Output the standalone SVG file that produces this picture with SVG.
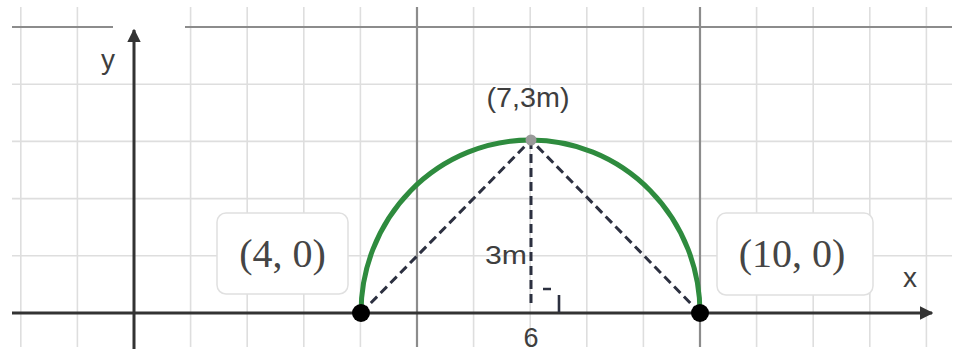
<svg xmlns="http://www.w3.org/2000/svg" width="957" height="354" viewBox="0 0 957 354">
<style>
.minor{stroke:#dedede;stroke-width:1.6;fill:none}
.major{stroke:#8c8c8c;stroke-width:2.2;fill:none}
.axis{stroke:#333;stroke-width:3;fill:none}
.dash{stroke:#2c3040;stroke-width:3;stroke-dasharray:9 5;fill:none}
.lbl{font-family:"Liberation Sans",Arial,sans-serif;fill:#3e3e3e}
.math{font-family:"Liberation Serif","Times New Roman",serif;fill:#454545;font-size:40px}
.box{fill:#fff;stroke:#e0e0e0;stroke-width:1.5}
</style>
<defs>
<marker id="arr" viewBox="0 0 10 10" refX="9" refY="5" markerWidth="4.5" markerHeight="4.5" orient="auto" markerUnits="strokeWidth">
<path d="M0,0 L10,5 L0,10 z" fill="#333"/>
</marker>
</defs>
<rect width="957" height="354" fill="#fff"/>
<g id="grid">
<g class="minor">
<path d="M20.8,7V347M77.4,7V347M190.6,7V347M247.2,7V347M303.8,7V347M360.4,7V347M473.6,7V347M530.2,7V347M586.8,7V347M643.4,7V347M756.6,7V347M813.2,7V347M869.8,7V347M926.4,7V347"/>
<path d="M12,84.2H952M12,141.4H952M12,198.6H952M12,255.8H952"/>
</g>
<g class="major">
<path d="M417,7V347M700,7V347"/>
<path d="M12,27H113M185,27H952"/>
</g>
</g>
<g id="axes">
<path class="axis" d="M12,313H932" marker-end="url(#arr)"/>
<path class="axis" d="M134,349V30" marker-end="url(#arr)"/>
<text class="lbl" x="101" y="69" font-size="28">y</text>
<text class="lbl" x="903" y="287" font-size="28">x</text>
</g>
<g id="connectors">
<path class="dash" d="M361,313L531,140"/>
<path class="dash" d="M700,313L531,140"/>
<path class="dash" d="M531,140V306"/>
<path d="M543,289H551M559,295V312" stroke="#2c3040" stroke-width="2.6" fill="none"/>
</g>
<g id="arc">
<path d="M361,313A169.5,173 0 0 1 700,313" fill="none" stroke="#2e8b3e" stroke-width="5"/>
</g>
<g id="apex">
<circle cx="531" cy="140" r="5.5" fill="#9a9a9a"/>
<text class="lbl" x="528" y="107" font-size="28" text-anchor="middle" textLength="83" lengthAdjust="spacingAndGlyphs">(7,3m)</text>
</g>
<g id="height-label">
<text class="lbl" x="506" y="264" font-size="25" text-anchor="middle" textLength="42" lengthAdjust="spacingAndGlyphs">3m</text>
<text class="lbl" x="531" y="347" font-size="27" text-anchor="middle">6</text>
</g>
<g id="p1">
<circle cx="361" cy="313" r="9" fill="#000"/>
<rect class="box" x="217" y="213" width="131" height="81" rx="9"/>
<text class="math" x="282.5" y="267" text-anchor="middle">(4, 0)</text>
</g>
<g id="p2">
<circle cx="700" cy="313" r="9" fill="#000"/>
<rect class="box" x="717" y="213" width="156" height="82" rx="9"/>
<text class="math" x="792" y="267" text-anchor="middle">(10, 0)</text>
</g>
</svg>
